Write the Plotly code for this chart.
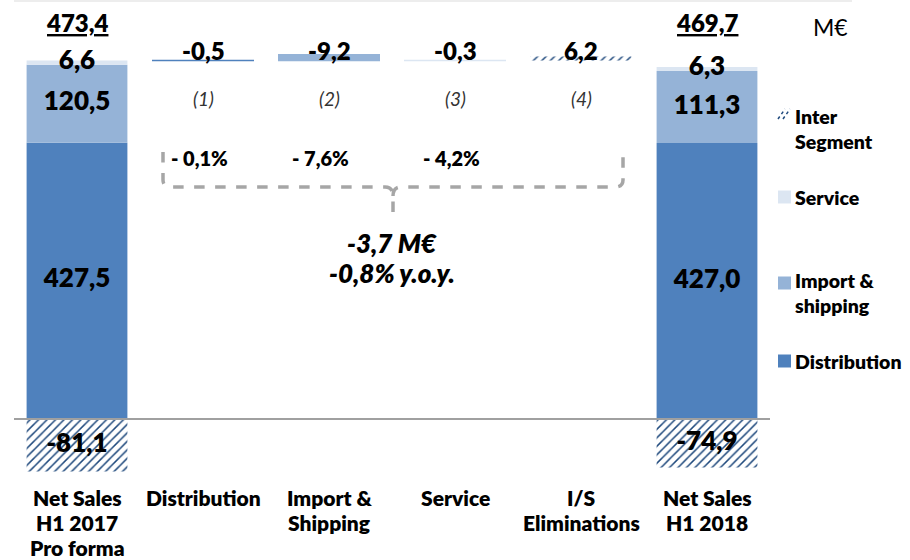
import plotly.graph_objects as go

# ---------------- data ----------------
categories = ["Net Sales<br>H1 2017<br>Pro forma", "Distribution", "Import &<br>Shipping",
              "Service", "I/S<br>Eliminations", "Net Sales<br>H1 2018"]
end_cats = [categories[0], categories[5]]
distribution = [427.5, 427.0]
import_shipping = [120.5, 111.3]
service = [6.6, 6.3]
inter_segment = [-81.1, -74.9]
totals = [473.4, 469.7]
deltas = [-0.5, -9.2, -0.3, 6.2]          # Distribution, Import, Service, I/S
delta_labels = ["-0,5", "-9,2", "-0,3", "6,2"]
notes = ["(1)", "(2)", "(3)", "(4)"]
pct_changes = ["- 0,1%", "- 7,6%", "- 4,2%"]
total_change = ["-3,7 M€", "-0,8% y.o.y."]
legend_items = ["Inter<br>Segment", "Service", "Import &<br>shipping", "Distribution"]

# ---------------- style ----------------
C_DIST = "#4F81BD"
C_IMP = "#95B3D7"
C_SERV = "#DCE6F2"
C_HATCH = "#1F497D"
FONT = "Lato"
BOLD = 800
W, H = 910, 560
ZERO_PX = 419.0
SCALE = 0.6463          # px per M€
CAT0_PX, CAT_W = 77.0, 126.0

def vy(p):   # pixel y -> data y
    return (ZERO_PX - p) / SCALE

def vx(p):   # pixel x -> data x
    return (p - CAT0_PX) / CAT_W

def fx(p):
    return p / W

def fy(p):
    return 1 - p / H

fmt = lambda v: f"{v:.1f}".replace(".", ",")

gross_start = distribution[0] + import_shipping[0] + service[0]

fig = go.Figure()

def seg_trace(name, color, end_vals, end_base, delta_idx, pattern=False):
    xs = [end_cats[0], categories[delta_idx + 1], end_cats[1]]
    ys = [end_vals[0], abs(deltas[delta_idx]), end_vals[1]]
    bs = [end_base[0], gross_start, end_base[1]]
    marker = dict(color=color, line=dict(width=[0, 1.2, 0], color=color))
    if pattern:
        marker = dict(color="white",
                      pattern=dict(shape="/", fgcolor=C_HATCH, bgcolor="white",
                                   size=6, solidity=0.25, fillmode="replace"),
                      line=dict(width=0))
    fig.add_trace(go.Bar(x=xs, y=ys, base=bs, name=name, marker=marker,
                         width=0.8, showlegend=False, hoverinfo="skip"))

seg_trace("Distribution", C_DIST, distribution, [0, 0], 0)
seg_trace("Import & shipping", C_IMP, import_shipping, distribution, 1)
seg_trace("Service", C_SERV, service,
          [distribution[i] + import_shipping[i] for i in range(2)], 2)
seg_trace("Inter Segment", C_HATCH, inter_segment, [0, 0], 3, pattern=True)

# segment value labels
lab_x, lab_y, lab_t = [], [], []
for i in range(2):
    d, m, s, n = distribution[i], import_shipping[i], service[i], inter_segment[i]
    lab_x += [end_cats[i]] * 4
    lab_y += [d / 2, d + m / 2, d + m + s / 2 + 1, n / 2]
    lab_t += [fmt(d), fmt(m), fmt(s), fmt(n)]
fig.add_trace(go.Scatter(x=lab_x, y=lab_y, text=lab_t, mode="text",
                         textfont=dict(family=FONT, size=26, color="black", weight=BOLD),
                         showlegend=False, hoverinfo="skip", cliponaxis=False))

annotations = []
# totals (underlined)
for i in range(2):
    annotations.append(dict(x=end_cats[i], y=vy(22), xref="x", yref="y",
                            text=f"<u>{fmt(totals[i])}</u>", showarrow=False,
                            font=dict(family=FONT, size=24, color="black", weight=BOLD)))
# delta labels and notes
for i in range(4):
    annotations.append(dict(x=categories[i + 1], y=vy(50), text=delta_labels[i],
                            showarrow=False,
                            font=dict(family=FONT, size=24, color="black", weight=BOLD)))
    annotations.append(dict(x=categories[i + 1], y=vy(98), text=f"<i>{notes[i]}</i>",
                            showarrow=False,
                            font=dict(family=FONT, size=19, color="#333333")))
# percentage changes
for i, xp in enumerate([199, 320, 451]):
    annotations.append(dict(x=vx(xp), y=vy(158), text=pct_changes[i], showarrow=False,
                            font=dict(family=FONT, size=20, color="black", weight=BOLD)))
# total change
for j, yp in enumerate([243, 273]):
    annotations.append(dict(x=vx(392), y=vy(yp), text=f"<i>{total_change[j]}</i>",
                            showarrow=False,
                            font=dict(family=FONT, size=26, color="black", weight=BOLD)))
# category labels (one annotation per line to control spacing)
for c in categories:
    for li, line in enumerate(c.split("<br>")):
        annotations.append(dict(x=c, y=vy(497 + 25 * li), text=line, showarrow=False,
                                font=dict(family=FONT, size=21, color="black", weight=BOLD)))
# unit
annotations.append(dict(x=fx(830), y=fy(27), xref="paper", yref="paper", text="M€",
                        xanchor="center", yanchor="middle", showarrow=False,
                        font=dict(family=FONT, size=23, color="black")))

# legend
shapes = []
leg_y = [116, 197, 280, 361]
leg_sq = [114, 197, 283, 361]
leg_colors = [None, C_SERV, C_IMP, C_DIST]
for k, txt in enumerate(legend_items):
    for li, line in enumerate(txt.split("<br>")):
        annotations.append(dict(x=fx(793), y=fy(leg_y[k] + 25 * li), xref="paper", yref="paper",
                                text=line, showarrow=False, xanchor="left", yanchor="middle",
                                font=dict(family=FONT, size=19.5, color="black", weight=BOLD)))
    yc = leg_sq[k]
    if leg_colors[k]:
        shapes.append(dict(type="rect", xref="paper", yref="paper",
                           x0=fx(778), x1=fx(791), y0=fy(yc - 6.5), y1=fy(yc + 6.5),
                           fillcolor=leg_colors[k], line=dict(width=0)))
    else:
        for off in (0, 5):
            shapes.append(dict(type="line", xref="paper", yref="paper",
                               x0=fx(778 + off), y0=fy(yc + 5), x1=fx(785 + off), y1=fy(yc - 5),
                               line=dict(color=C_HATCH, width=1.5, dash="dot")))

# zero line
shapes.append(dict(type="line", xref="x", yref="y", x0=-0.5, x1=5.5, y0=0, y1=0,
                   line=dict(color="#A0A0A0", width=2)))
# faint top border
shapes.append(dict(type="line", xref="paper", yref="paper", x0=fx(14), x1=fx(852),
                   y0=fy(1), y1=fy(1), line=dict(color="#EDEDED", width=2)))

# dashed brace
pts = lambda x, y: f"{fx(x):.5f},{fy(y):.5f}"
brace = ("M " + pts(163, 152) + " L " + pts(163, 180) + " Q " + pts(163, 187) + " " + pts(171, 187)
         + " L " + pts(385, 187) + " Q " + pts(393, 187) + " " + pts(393, 196)
         + " L " + pts(393, 222)
         + " M " + pts(393, 196) + " Q " + pts(393, 187) + " " + pts(401, 187)
         + " L " + pts(615, 187) + " Q " + pts(623, 187) + " " + pts(623, 180)
         + " L " + pts(623, 152))
shapes.append(dict(type="path", xref="paper", yref="paper", path=brace,
                   line=dict(color="#A6A6A6", width=3.5, dash="dash")))

fig.update_layout(
    width=W, height=H,
    margin=dict(l=0, r=0, t=0, b=0),
    paper_bgcolor="white", plot_bgcolor="white",
    barmode="overlay",
    xaxis=dict(type="category", categoryorder="array", categoryarray=categories,
               range=[vx(0), vx(W)], visible=False, fixedrange=True),
    yaxis=dict(range=[vy(H), vy(0)], visible=False, fixedrange=True),
    annotations=annotations, shapes=shapes,
    showlegend=False,
)

fig.write_html("out.html")
